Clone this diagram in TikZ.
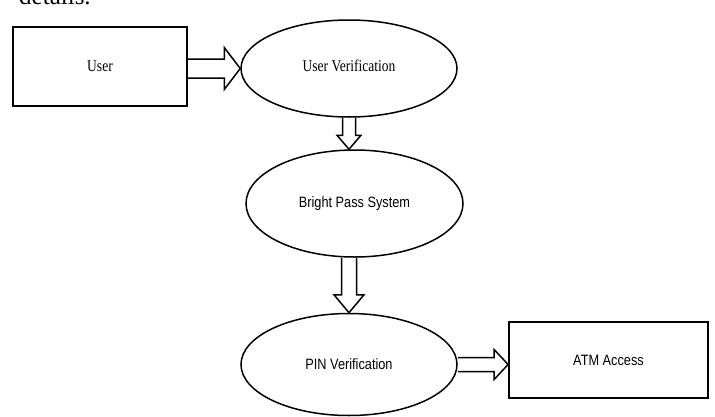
\documentclass[tikz,border=0pt]{standalone}
\usepackage{fontspec}
\usetikzlibrary{shapes.geometric,calc}
\newfontfamily\serifc[FakeStretch=0.82]{Liberation Serif}
\newfontfamily\sansc[FakeStretch=0.85]{Liberation Sans}
\newfontfamily\serifn{Liberation Serif}
\newcommand{\myharrow}[5]{\draw[blk] ($(#1)+(0,-#3)$) -- ($(#2)+(-#5,-#3)$) -- ($(#2)+(-#5,-#4)$) -- (#2) -- ($(#2)+(-#5,#4)$) -- ($(#2)+(-#5,#3)$) -- ($(#1)+(0,#3)$);}
\newcommand{\myvarrow}[5]{\draw[blk] ($(#1)+(-#3,0)$) -- ($(#2)+(-#3,-#5)$) -- ($(#2)+(-#4,-#5)$) -- (#2) -- ($(#2)+(#4,-#5)$) -- ($(#2)+(#3,-#5)$) -- ($(#1)+(#3,0)$);}
\tikzset{
  box/.style={draw, line width=1.8pt, rectangle, inner sep=0pt},
  ell/.style={draw, line width=1.5pt, ellipse, inner sep=0pt},
  blk/.style={draw, line width=1.5pt, line join=miter},
  sertext/.style={font=\serifc\fontsize{16.5}{18}\selectfont},
  santext/.style={font=\sansc\fontsize{15}{17}\selectfont}
}
\begin{document}
\begin{tikzpicture}[x=1pt,y=-1pt]
\useasboundingbox (0,0) rectangle (715,416);
\begin{scope}
\clip (0,0) rectangle (715,416);
\node[anchor=base west, inner sep=0pt, font=\serifn\fontsize{25}{28}\selectfont] (det) at (19,4.5) {details.};
\end{scope}
\node[box, minimum width=174pt, minimum height=79pt, sertext] (user) at (100,66.5) {User};
\node[ell, minimum width=216pt, minimum height=97pt, sertext] (uv) at (349,68.5) {\raisebox{6pt}{User Verification}};
\node[ell, minimum width=217pt, minimum height=107pt, santext] (bps) at (354.5,203.5) {Bright Pass System};
\node[ell, minimum width=216pt, minimum height=102pt, santext] (pin) at (349,364.5) {\raisebox{-2pt}{PIN Verification}};
\node[box, minimum width=199pt, minimum height=76pt, santext] (atm) at (608.5,360) {ATM Access};
\coordinate (t1) at (user.east |- uv.west);
\coordinate (h2) at (uv.south |- bps.north);
\coordinate (t3) at (pin.north |- bps.south);
\coordinate (h4) at (atm.west |- pin.east);
\myharrow{t1}{uv.west}{9.5}{21}{16}
\myvarrow{uv.south}{h2}{6.5}{12}{14}
\myvarrow{t3}{pin.north}{7.5}{15}{18}
\myharrow{pin.east}{h4}{7}{15}{14}
\end{tikzpicture}
\end{document}
